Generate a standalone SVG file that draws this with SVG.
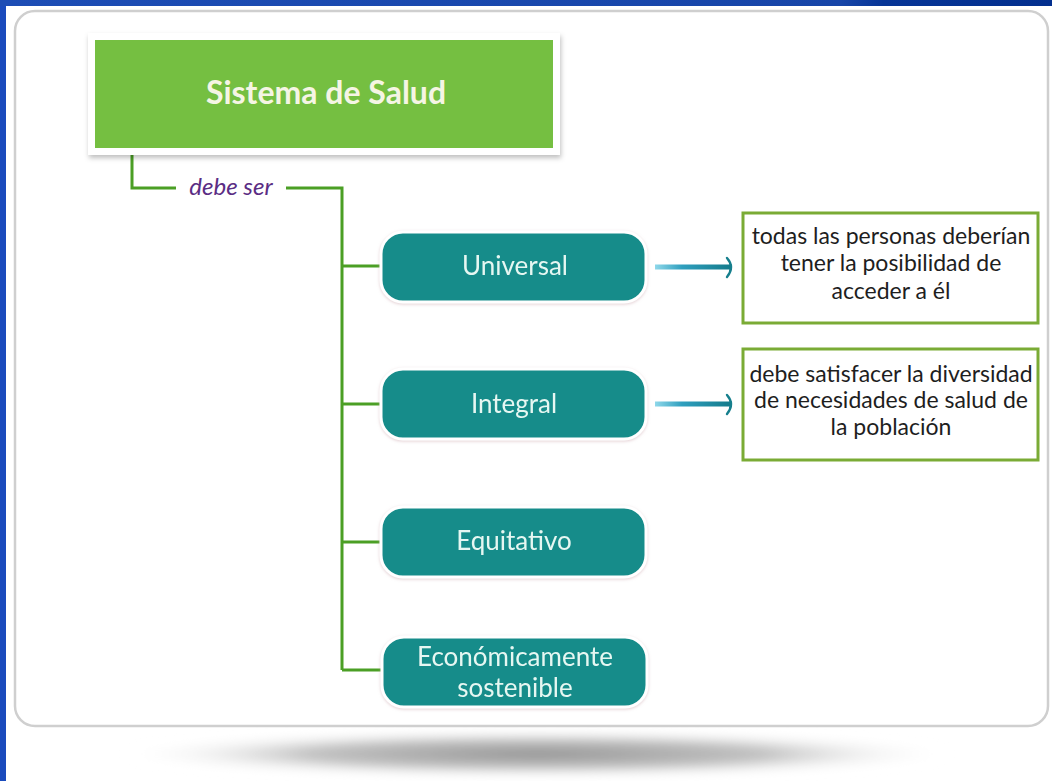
<svg xmlns="http://www.w3.org/2000/svg" width="1052" height="781" viewBox="0 0 1052 781">
<defs>
<linearGradient id="topband" x1="0" y1="0" x2="1" y2="0">
<stop offset="0" stop-color="#1d4db5"/>
<stop offset="0.8" stop-color="#1745a8"/>
<stop offset="0.84" stop-color="#073596"/>
<stop offset="1" stop-color="#032f8e"/>
</linearGradient>
<linearGradient id="arrowgrad" x1="0" y1="0" x2="1" y2="0">
<stop offset="0" stop-color="#8fd8ea"/>
<stop offset="0.35" stop-color="#2f9fbe"/>
<stop offset="1" stop-color="#137a8a"/>
</linearGradient>
<radialGradient id="floorshadow" cx="0.5" cy="0.5" r="0.5">
<stop offset="0" stop-color="#959595"/>
<stop offset="0.55" stop-color="#c2c2c2"/>
<stop offset="1" stop-color="#ffffff" stop-opacity="0"/>
</radialGradient>
<filter id="soft" x="-10%" y="-20%" width="120%" height="150%">
<feDropShadow dx="1" dy="3" stdDeviation="2.5" flood-color="#000" flood-opacity="0.25"/>
</filter>
<filter id="glow" x="-10%" y="-20%" width="120%" height="150%">
<feDropShadow dx="0" dy="1" stdDeviation="1.5" flood-color="#c9a0a8" flood-opacity="0.5"/>
</filter>
<filter id="blur" x="-10%" y="-100%" width="120%" height="300%">
<feGaussianBlur stdDeviation="5"/>
</filter>
</defs>
<style>
.conn{fill:none;stroke:#4b9f25;stroke-width:3}
.teal{fill:#178c8a;stroke:#ffffff;stroke-width:3}
.tealtxt{font-family:Lato,"Open Sans",sans-serif;font-size:26px;fill:#e6f7f2;text-anchor:middle}
.desc{fill:#ffffff;stroke:#7aab35;stroke-width:3}
.desctxt{font-family:Lato,"Open Sans",sans-serif;font-size:23px;fill:#1e1e1e;text-anchor:middle}
.arr{fill:url(#arrowgrad)}
.ahead{fill:none;stroke:#167f8d;stroke-width:2.4;stroke-linecap:round}
</style>
<rect x="0" y="0" width="1052" height="781" fill="#ffffff"/>
<rect x="0" y="0" width="6" height="781" fill="#1a4bbd"/>
<rect x="0" y="0" width="1052" height="6" fill="url(#topband)"/>
<ellipse cx="537" cy="754" rx="420" ry="24" fill="url(#floorshadow)" filter="url(#blur)"/>
<rect x="15" y="11" width="1033" height="715" rx="20" ry="20" fill="#ffffff" stroke="#cfcfcf" stroke-width="2.5"/>

<g id="connectors">
<path class="conn" d="M132 148 V188 H176"/>
<path class="conn" d="M286 188 H342 V670"/>
<path class="conn" d="M342 266 H382"/>
<path class="conn" d="M342 404 H382"/>
<path class="conn" d="M342 542 H382"/>
<path class="conn" d="M342 670 H382"/>
<rect class="arr" x="655" y="264.5" width="77" height="5"/>
<path class="ahead" d="M727 258 Q735 267 727 277"/>
<rect class="arr" x="655" y="401.5" width="77" height="5"/>
<path class="ahead" d="M727 395 Q735 404 727 414"/>
</g>

<g id="title">
<rect x="88" y="33" width="472" height="122" fill="#ffffff" filter="url(#soft)"/>
<rect x="95" y="40" width="458" height="108" fill="#75bf41"/>
<text x="326" y="104" font-family="Lato,'Open Sans',sans-serif" font-weight="bold" font-size="32" fill="#f5f5e4" text-anchor="middle">Sistema de Salud</text>
</g>

<g id="label-debe-ser">
<text x="231" y="195" font-family="Lato,'Open Sans',sans-serif" font-style="italic" font-size="24" fill="#5b2d84" text-anchor="middle">debe ser</text>
</g>

<g id="node-universal" filter="url(#glow)">
<rect class="teal" x="381" y="232" width="265" height="70" rx="22"/>
<text class="tealtxt" x="515" y="275">Universal</text>
</g>
<g id="node-integral" filter="url(#glow)">
<rect class="teal" x="381" y="369" width="265" height="70" rx="22"/>
<text class="tealtxt" x="514" y="413">Integral</text>
</g>
<g id="node-equitativo" filter="url(#glow)">
<rect class="teal" x="381" y="507" width="265" height="70" rx="22"/>
<text class="tealtxt" x="514" y="550">Equitativo</text>
</g>
<g id="node-economico" filter="url(#glow)">
<rect class="teal" x="382" y="637" width="265" height="70" rx="22"/>
<text class="tealtxt" x="515" y="666">Económicamente</text>
<text class="tealtxt" x="515" y="697">sostenible</text>
</g>

<g id="desc-universal">
<rect class="desc" x="743" y="213" width="295" height="110"/>
<text class="desctxt" x="891" y="244">todas las personas deberían</text>
<text class="desctxt" x="891" y="271">tener la posibilidad de</text>
<text class="desctxt" x="891" y="299">acceder a él</text>
</g>
<g id="desc-integral">
<rect class="desc" x="743" y="349" width="295" height="111"/>
<text class="desctxt" x="891" y="382">debe satisfacer la diversidad</text>
<text class="desctxt" x="891" y="408">de necesidades de salud de</text>
<text class="desctxt" x="891" y="435">la población</text>
</g>
</svg>
